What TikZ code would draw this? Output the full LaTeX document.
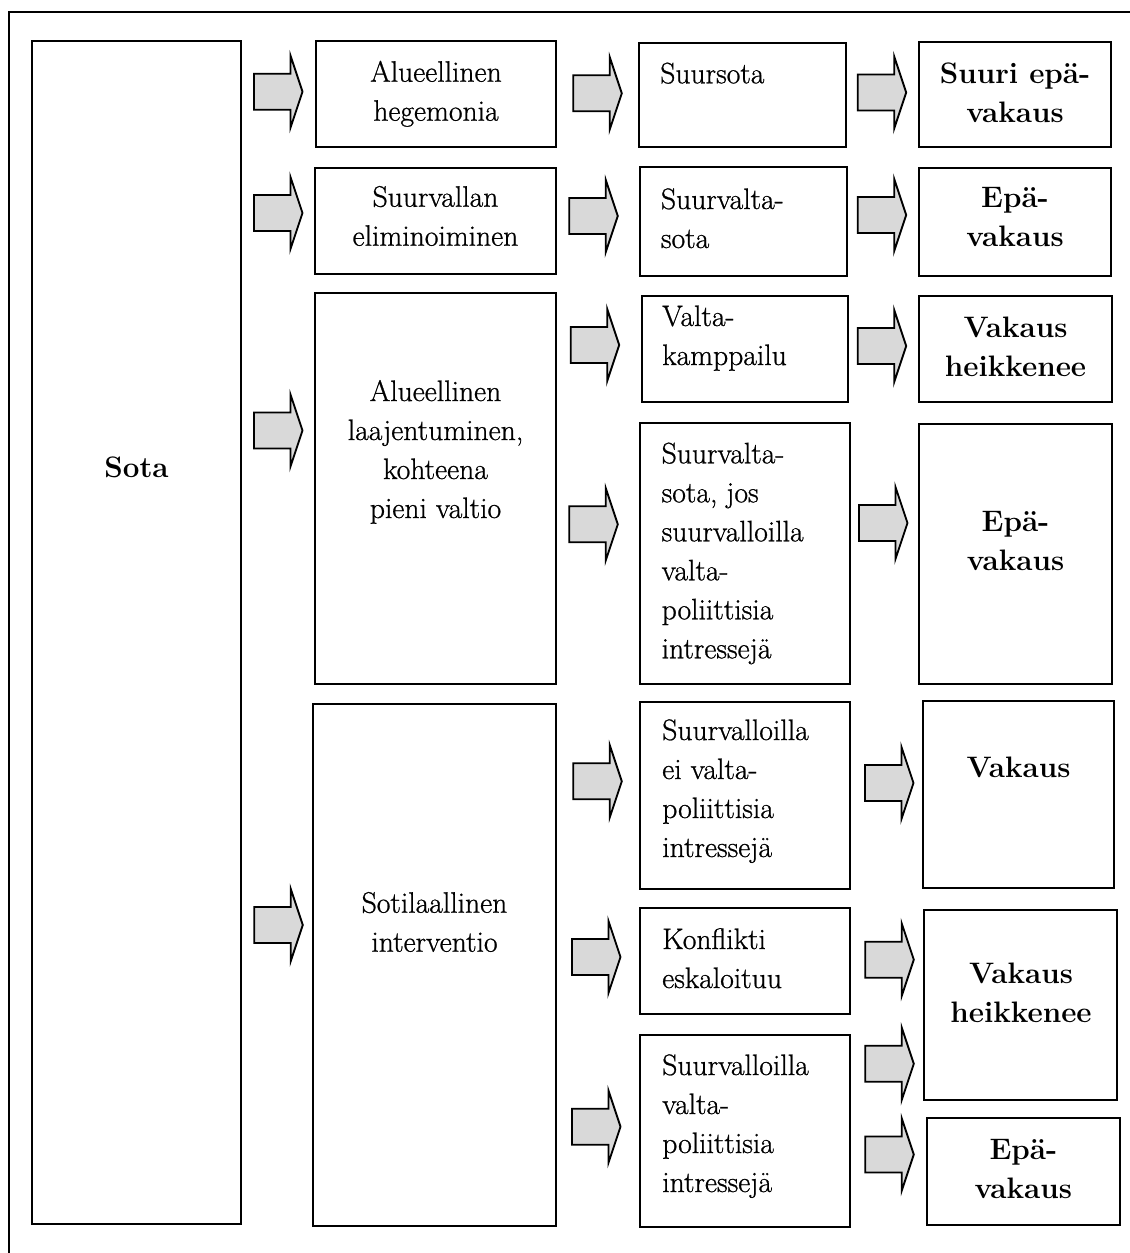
\documentclass[tikz,border=0pt]{standalone}
\usepackage{fontspec}
\newfontfamily\regfont{Latin Modern Roman}[FakeBold=0.8]
\usetikzlibrary{fit}
\definecolor{arrowgray}{HTML}{D9D9D9}
\tikzset{
  box/.style={draw, line width=1.5pt, inner sep=0pt},
  reg/.style={inner sep=0pt, font=\regfont\fontsize{22.2}{29.25}\selectfont},
  ctext/.style={reg, align=center, anchor=base},
  ltext/.style={reg, align=left, anchor=base west},
  btext/.style={ctext, font=\normalfont\fontsize{22.2}{29.25}\selectfont\bfseries},
  barrow/.pic={\draw[line width=1.4pt, fill=arrowgray, line join=miter]
     (0,-18) -- (36.5,-18) -- (36.5,-36) -- (48.5,0) -- (36.5,36) -- (36.5,18) -- (0,18) -- cycle;}
}
\begin{document}
\begin{tikzpicture}[x=0.75pt,y=-0.75pt]
\useasboundingbox (0,0) rectangle (1129,1253);
% outer frame (clipped on right and bottom)
\draw[line width=1.6pt] (8.7,1260) -- (8.7,12) -- (1140,12);

% column 1
\node[box, fit={(32.3,41.3)(240.7,1224)}] (sota) {};
% column 2
\node[box, fit={(316,41.3)(556,147.3)}] (a1) {};
\node[box, fit={(315,168)(556,274.3)}] (a2) {};
\node[box, fit={(315,293.3)(555.7,684)}] (a3) {};
\node[box, fit={(313.3,704)(555.7,1226)}] (a4) {};
% column 3
\node[box, fit={(639,42.7)(845.7,147.3)}] (b1) {};
\node[box, fit={(640,167.3)(846.7,276)}] (b2) {};
\node[box, fit={(642,295.7)(848.3,402.3)}] (b3) {};
\node[box, fit={(640.3,423)(850,684)}] (b4) {};
\node[box, fit={(640,701.7)(850,888.5)}] (b5) {};
\node[box, fit={(640.3,908.3)(850,1014.3)}] (b6) {};
\node[box, fit={(640.3,1035)(850,1227.3)}] (b7) {};
% column 4
\node[box, fit={(919.3,41.7)(1111,147.3)}] (c1) {};
\node[box, fit={(919.3,168.3)(1111,276)}] (c2) {};
\node[box, fit={(919,295.7)(1112,402.3)}] (c3) {};
\node[box, fit={(918.8,424)(1112,684)}] (c4) {};
\node[box, fit={(923,701)(1114,888.3)}] (c5) {};
\node[box, fit={(924.3,909.7)(1117.4,1100)}] (c6) {};
\node[box, fit={(926.8,1118.3)(1120,1224.8)}] (c7) {};

% texts (anchor = baseline of the last line)
\node[btext] (sota-t) at (136.5,477) {Sota};
\node[ctext] (a1-t) at (436,120.7) {Alueellinen\\hegemonia};
\node[ctext] (a2-t) at (435.5,245.7) {Suurvallan\\eliminoiminen};
\node[ctext] (a3-t) at (435.5,518) {Alueellinen\\laajentuminen,\\kohteena\\pieni valtio};
\node[ctext] (a4-t) at (434.5,951.7) {Sotilaallinen\\interventio};

\node[ltext] (b1-t) at (660,83.3) {Suursota};
\node[ltext] (b2-t) at (660.7,248) {Suurvalta-\\sota};
\node[ltext] (b3-t) at (662,365) {Valta-\\kamppailu};
\node[ltext] (b4-t) at (661.4,658.3) {Suurvalta-\\sota, jos\\suurvalloilla\\valta-\\poliittisia\\intressejä};
\node[ltext] (b5-t) at (662,857) {Suurvalloilla\\ei valta-\\poliittisia\\intressejä};
\node[ltext] (b6-t) at (662,988) {Konflikti\\eskaloituu};
\node[ltext] (b7-t) at (662,1192) {Suurvalloilla\\valta-\\poliittisia\\intressejä};

\node[btext] (c1-t) at (1015,122.3) {Suuri epä-\\vakaus};
\node[btext] (c2-t) at (1015,246.7) {Epä-\\vakaus};
\node[btext] (c3-t) at (1015.5,376) {Vakaus\\heikkenee};
\node[btext] (c4-t) at (1015.5,570) {Epä-\\vakaus};
\node[btext] (c5-t) at (1018.5,777) {Vakaus};
\node[btext] (c6-t) at (1021,1022.3) {Vakaus\\heikkenee};
\node[btext] (c7-t) at (1023.4,1198.5) {Epä-\\vakaus};

% block arrows column 1 -> 2
\pic at (254,91.7) {barrow};
\pic at (254,213) {barrow};
\pic at (254,430.5) {barrow};
\pic at (254.3,925) {barrow};
% column 2 -> 3
\pic at (573.3,93.3) {barrow};
\pic at (569.3,216) {barrow};
\pic at (570.7,345) {barrow};
\pic at (569.3,524.3) {barrow};
\pic at (573.3,781.3) {barrow};
\pic at (572,957) {barrow};
\pic at (572,1126.7) {barrow};
% column 3 -> 4
\pic at (857.7,92.5) {barrow};
\pic at (857.7,215) {barrow};
\pic at (857.7,346) {barrow};
\pic at (859,523) {barrow};
\pic at (865,783) {barrow};
\pic at (865.3,959.7) {barrow};
\pic at (865.3,1063.8) {barrow};
\pic at (865.3,1154.5) {barrow};
\end{tikzpicture}
\end{document}
